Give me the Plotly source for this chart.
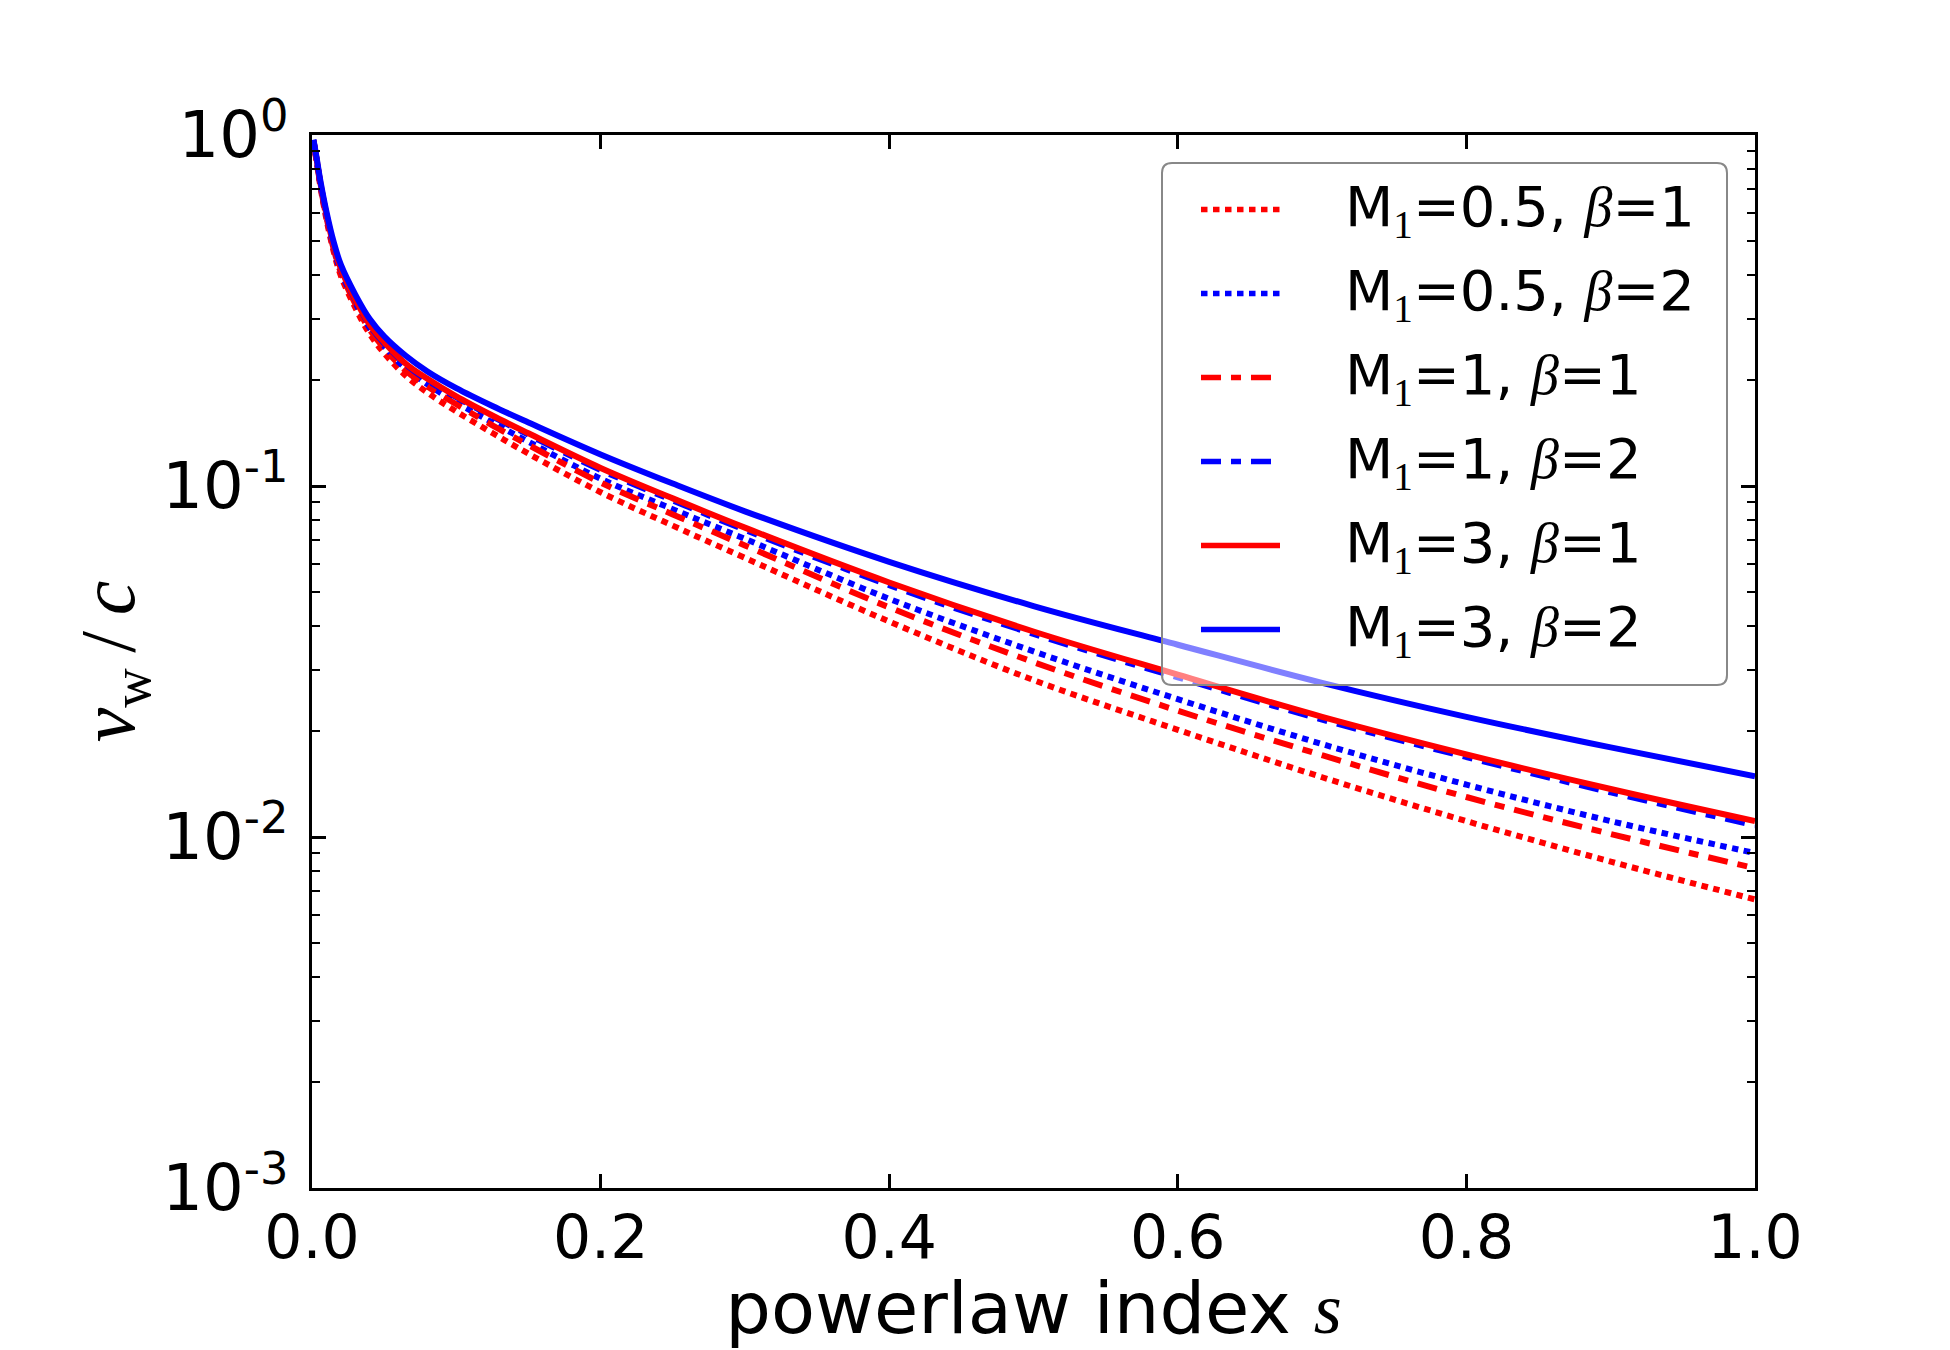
import plotly.graph_objects as go

# powerlaw index s
s = [0.001, 0.003, 0.006, 0.01, 0.015, 0.02, 0.03, 0.04, 0.05, 0.065, 0.08, 0.1,
     0.125, 0.15, 0.2, 0.25, 0.3, 0.4, 0.5, 0.6, 0.7, 0.8, 0.9, 1.0]

# v_w / c for each (M1, beta)
v_m05_b1 = [0.957, 0.849, 0.706, 0.575, 0.466, 0.397, 0.322, 0.271, 0.239, 0.206, 0.1845, 0.163,
            0.1416, 0.1236, 0.0960, 0.0771, 0.0624, 0.0411, 0.0280, 0.0202, 0.0148, 0.0111, 0.00851, 0.00664]
v_m05_b2 = [0.962, 0.857, 0.716, 0.588, 0.478, 0.409, 0.333, 0.282, 0.250, 0.216, 0.195, 0.173,
            0.1517, 0.1337, 0.1049, 0.0859, 0.0707, 0.0477, 0.0338, 0.0247, 0.0184, 0.0141, 0.0111, 0.0090]
v_m1_b1 = [0.962, 0.855, 0.713, 0.583, 0.474, 0.406, 0.330, 0.279, 0.247, 0.213, 0.192, 0.171,
           0.1489, 0.1309, 0.1023, 0.0830, 0.0677, 0.0451, 0.0315, 0.0229, 0.0171, 0.0130, 0.0102, 0.00815]
v_m1_b2 = [0.966, 0.863, 0.721, 0.593, 0.483, 0.415, 0.339, 0.287, 0.255, 0.222, 0.200, 0.179,
           0.1577, 0.1400, 0.1111, 0.0910, 0.0750, 0.0522, 0.0379, 0.0285, 0.0216, 0.0169, 0.0134, 0.0108]
v_m3_b1 = [0.966, 0.863, 0.723, 0.594, 0.484, 0.416, 0.340, 0.288, 0.257, 0.223, 0.202, 0.180,
           0.1588, 0.1413, 0.1126, 0.0922, 0.0761, 0.0531, 0.0385, 0.0290, 0.0220, 0.0172, 0.0137, 0.0111]
v_m3_b2 = [0.970, 0.871, 0.733, 0.605, 0.496, 0.427, 0.351, 0.299, 0.267, 0.235, 0.212, 0.190,
           0.1690, 0.1517, 0.1230, 0.1016, 0.0847, 0.0608, 0.0455, 0.0353, 0.0275, 0.0220, 0.0180, 0.0149]

series = [v_m05_b1, v_m05_b2, v_m1_b1, v_m1_b2, v_m3_b1, v_m3_b2]
m1_labels = ["0.5", "0.5", "1", "1", "3", "3"]
beta_labels = ["1", "2", "1", "2", "1", "2"]
colors = ["#ff0000", "#0000ff", "#ff0000", "#0000ff", "#ff0000", "#0000ff"]
DOT = "6.5px,5.5px"
DASHDOT = "20px,10px,10px,10px"
dashes = [DOT, DOT, DASHDOT, DASHDOT, "solid", "solid"]

x_ticks = [0.0, 0.2, 0.4, 0.6, 0.8, 1.0]
y_ticks = [0.001, 0.01, 0.1, 1]
y_ticktext = ["10<sup>-3</sup>", "10<sup>-2</sup>", "10<sup>-1</sup>", "10<sup>0</sup>"]

SERIF = "Liberation Serif"


def label(m, b):
    return (f"M<sub><span style='font-family:{SERIF}'>1</span></sub>={m}, "
            f"<span style='font-family:{SERIF}'><i>β</i></span>={b}")


fig = go.Figure()
for vals, m, b, c, d in zip(series, m1_labels, beta_labels, colors, dashes):
    fig.add_trace(go.Scatter(
        x=s, y=vals, mode="lines", name=label(m, b), showlegend=False,
        line=dict(color=c, width=6, dash=d, shape="spline", smoothing=1.0),
    ))

W, H = 1950, 1350
ML, MR, MT, MB = 312, 195, 135, 162
PW, PH = W - ML - MR, H - MT - MB


def px(x):
    return (x - ML) / PW


def py(y):
    return (H - MB - y) / PH


# Legend frame with rounded corners (semi-transparent like the original)
x0, x1, yt, yb = px(1162), px(1727), py(163), py(685)
rx, ry = 10 / PW, 10 / PH
path = (f"M {x0+rx},{yb} L {x1-rx},{yb} Q {x1},{yb} {x1},{yb+ry} "
        f"L {x1},{yt-ry} Q {x1},{yt} {x1-rx},{yt} L {x0+rx},{yt} "
        f"Q {x0},{yt} {x0},{yt-ry} L {x0},{yb+ry} Q {x0},{yb} {x0+rx},{yb} Z")
shapes = [dict(type="path", path=path, xref="paper", yref="paper",
               fillcolor="rgba(255,255,255,0.5)",
               line=dict(color="#888888", width=2), layer="above")]
annotations = []
for i, (m, b, c, d) in enumerate(zip(m1_labels, beta_labels, colors, dashes)):
    yrow = py(209.6 + 84.0 * i)
    shapes.append(dict(type="line", xref="paper", yref="paper",
                       x0=px(1201), x1=px(1280), y0=yrow, y1=yrow,
                       line=dict(color=c, width=5.5, dash=d), layer="above"))
    annotations.append(dict(xref="paper", yref="paper", x=px(1343), y=yrow,
                            xanchor="left", yanchor="middle", showarrow=False,
                            text=label(m, b),
                            font=dict(size=56, color="black", family="DejaVu Sans")))

fig.update_layout(
    width=W, height=H,
    margin=dict(l=ML, r=MR, t=MT, b=MB, autoexpand=False),
    paper_bgcolor="white", plot_bgcolor="white",
    font=dict(family="DejaVu Sans", color="black"),
    shapes=shapes, annotations=annotations,
    showlegend=False,
)
fig.update_xaxes(
    range=[0, 1], tickvals=x_ticks, tickformat=".1f", automargin=False,
    ticks="inside", ticklen=14, tickwidth=2.5, tickcolor="black",
    ticklabelstandoff=-5,
    showline=True, linecolor="black", linewidth=2.5, mirror="allticks",
    showgrid=False, zeroline=False,
    tickfont=dict(size=60, family="DejaVu Sans"),
    title=dict(text=f"powerlaw index <span style='font-family:{SERIF}'><i>s</i></span>",
               font=dict(size=72, family="DejaVu Sans"), standoff=14),
)
fig.update_yaxes(
    type="log", range=[-3, 0], tickvals=y_ticks, ticktext=y_ticktext, automargin=False,
    ticks="inside", ticklen=14, tickwidth=2.5, tickcolor="black",
    ticklabelstandoff=8,
    minor=dict(dtick="D1", ticks="inside", ticklen=8, tickwidth=1.8,
               tickcolor="black", showgrid=False),
    showline=True, linecolor="black", linewidth=2.5, mirror="allticks",
    showgrid=False, zeroline=False,
    tickfont=dict(size=64, family="DejaVu Sans"),
    title=dict(text="<i>v</i><sub>w</sub>\u2009/\u2009<i>c</i>",
               font=dict(size=78, family=SERIF), standoff=3),
)

fig.write_html("out.html")
